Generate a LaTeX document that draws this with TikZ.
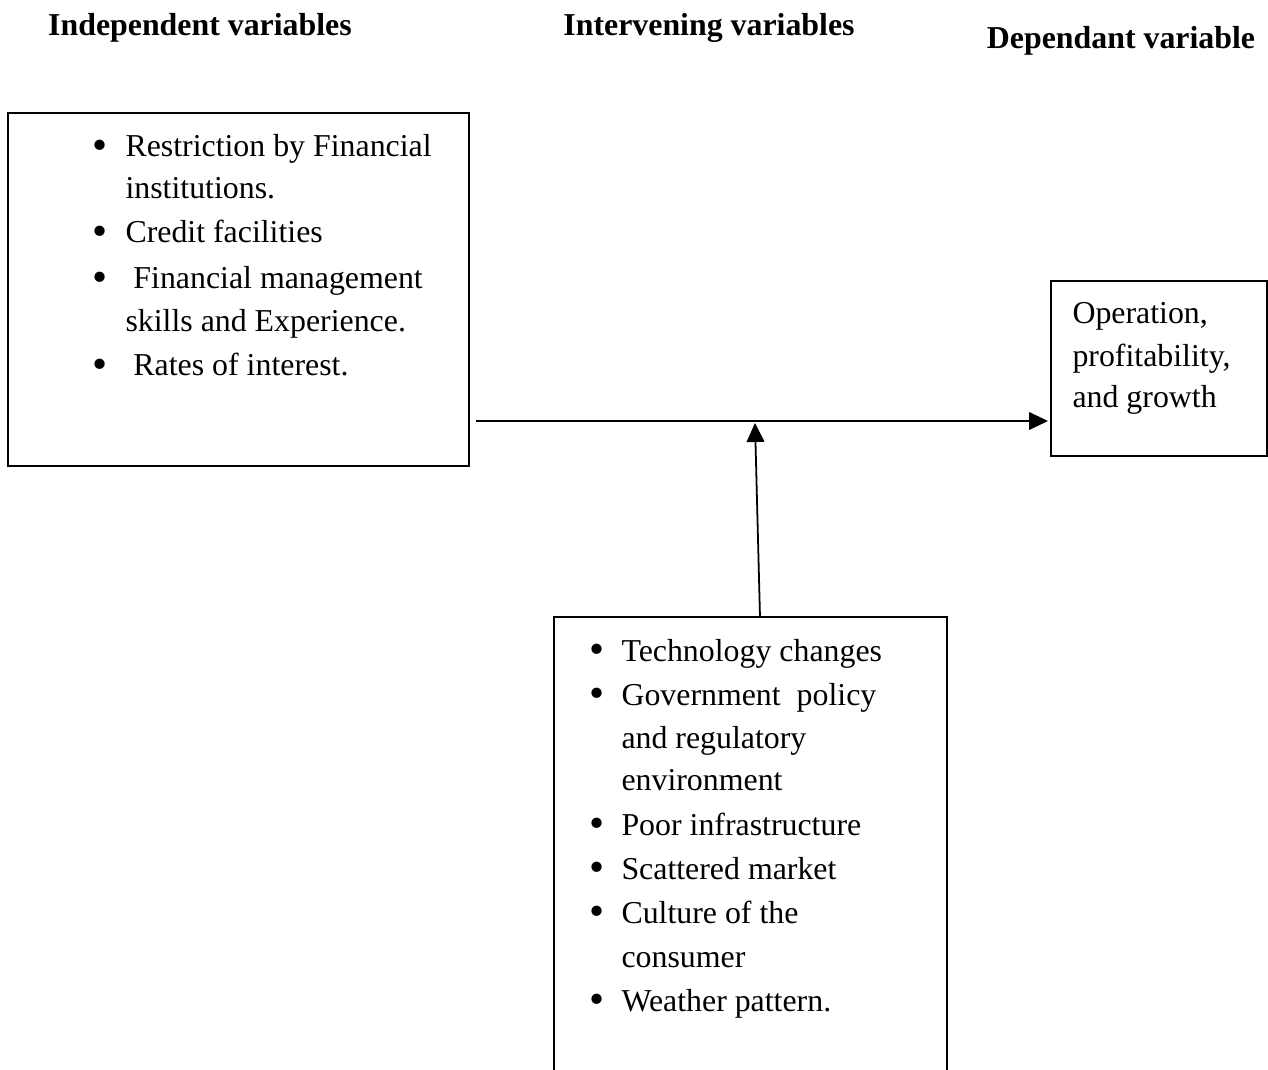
\documentclass[tikz,border=0pt]{standalone}
\usepackage{fontspec}
\setmainfont{Liberation Serif}
\usetikzlibrary{arrows.meta}

\tikzset{
  box/.style={draw,line width=0.7pt,inner sep=0pt},
  head/.style={font=\fontsize{12.6}{15}\selectfont\bfseries,inner sep=0pt},
  item/.style={anchor=base west,inner sep=0pt,font=\fontsize{12.6}{15}\selectfont},
  dot/.style={inner sep=0pt,font=\fontsize{17}{17}\selectfont},
  link/.style={line width=0.7pt,-{Triangle[length=7.5pt,width=7pt]}}
}

\begin{document}
\begin{tikzpicture}[x=0.0139cm,y=-0.0139cm]
\useasboundingbox (0,0) rectangle (1268,1070);
% column headings
\node[head] (hindep) at (200,28) {Independent variables};
\node[head] (hinter) at (709,28) {Intervening variables};
\node[head] (hdep) at (1121,41) {Dependant variable};
% boxes
\node[box,minimum width=461*0.0139cm,minimum height=353*0.0139cm] (indep) at (238.5,289.5) {};
\node[box,minimum width=216*0.0139cm,minimum height=175*0.0139cm] (dep) at (1159,368.5) {};
\node[box,minimum width=393*0.0139cm,minimum height=470*0.0139cm] (inter) at (750.5,852) {};
% independent variables
\node[dot] (b1) at (100,150) {\textbullet};
\node[item] (i1) at (125,157) {Restriction by Financial};
\node[item] (i1b) at (125,199) {institutions.};
\node[dot] (b2) at (100,236) {\textbullet};
\node[item] (i2) at (125,243) {Credit facilities};
\node[dot] (b3) at (100,282) {\textbullet};
\node[item] (i3) at (125,289) {\ Financial management};
\node[item] (i3b) at (125,331) {skills and Experience.};
\node[dot] (b4) at (100,369) {\textbullet};
\node[item] (i4) at (125,376) {\ Rates of interest.};
% dependant variable
\node[item] (d1) at (1072,324) {Operation,};
\node[item] (d2) at (1072,366) {profitability,};
\node[item] (d3) at (1072,408) {and growth};
% intervening variables
\node[dot] (c1) at (597,654) {\textbullet};
\node[item] (t1) at (621,661) {Technology changes};
\node[dot] (c2) at (597,698) {\textbullet};
\node[item] (t2) at (621,705) {Government\ \ policy};
\node[item] (t2b) at (621,748) {and regulatory};
\node[item] (t2c) at (621,790) {environment};
\node[dot] (c3) at (597,828) {\textbullet};
\node[item] (t3) at (621,835) {Poor infrastructure};
\node[dot] (c4) at (597,872) {\textbullet};
\node[item] (t4) at (621,879) {Scattered market};
\node[dot] (c5) at (597,916) {\textbullet};
\node[item] (t5) at (621,923) {Culture of the};
\node[item] (t5b) at (621,967) {consumer};
\node[dot] (c6) at (597,1004) {\textbullet};
\node[item] (t6) at (621,1011) {Weather pattern.};
% connectors
\coordinate (hstart) at (476,421);
\coordinate (hend) at (1048,421);
\coordinate (vend) at (755,423);
\coordinate (vstart) at (760,617);
\draw[link] (hstart) -- (hend);
\draw[link] (vstart) -- (vend);
\end{tikzpicture}
\end{document}
